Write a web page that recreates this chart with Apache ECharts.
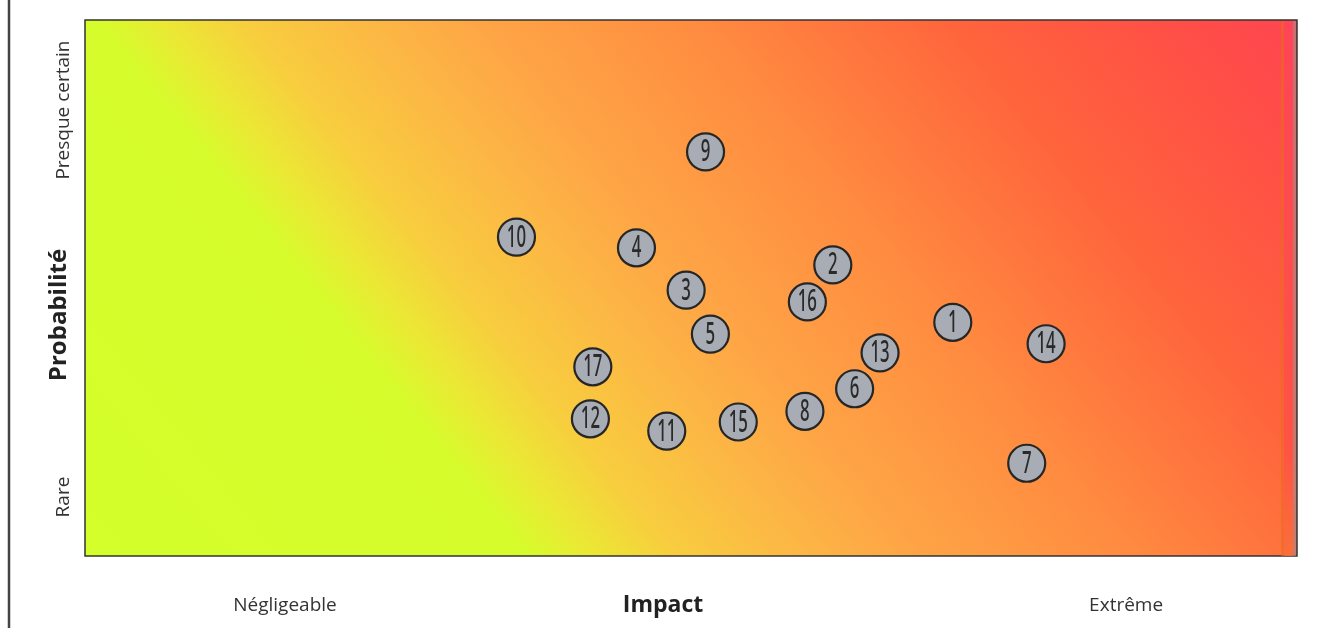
<!DOCTYPE html>
<html>
<head>
<meta charset="utf-8">
<script src="https://cdn.jsdelivr.net/npm/echarts@6/dist/echarts.min.js"></script>
<style>
  html, body { margin: 0; padding: 0; background: #ffffff; }
  #chart { width: 1319px; height: 628px; }
</style>
</head>
<body>
<div id="chart"></div>
<script>
// Risk register: each risk placed by impact (x) and probability (y), 0–100 scales
const riskIds = [1, 2, 3, 4, 5, 6, 7, 8, 9, 10, 11, 12, 13, 14, 15, 16, 17];
const impactValues = [71.6, 61.7, 49.6, 45.5, 51.6, 63.5, 77.7, 59.4, 51.2, 35.6, 48.0, 41.7, 65.6, 79.3, 53.9, 59.6, 41.9];
const probabilityValues = [43.6, 54.3, 49.6, 57.5, 41.4, 31.2, 17.3, 27.0, 75.4, 59.5, 23.3, 25.6, 37.9, 39.6, 25.0, 47.4, 35.3];

const impactTickValues = [16.5, 85.9];
const impactTickLabels = ['Négligeable', 'Extrême'];
const probabilityTickValues = [11, 83.2];
const probabilityTickLabels = ['Rare', 'Presque certain'];

const points = riskIds.map((id, i) => [impactValues[i], probabilityValues[i], id]);

const chart = echarts.init(document.getElementById('chart'), null, { renderer: 'canvas' });

// Heat background: colour rises from low impact/probability (lime) to high (red)
const heat = new echarts.graphic.LinearGradient(0, 1, 0.823, -0.494, [
  { offset: 0.00, color: 'rgb(212,255,42)' },
  { offset: 0.27, color: 'rgb(214,252,44)' },
  { offset: 0.31, color: 'rgb(235,232,52)' },
  { offset: 0.36, color: 'rgb(248,205,62)' },
  { offset: 0.43, color: 'rgb(252,185,68)' },
  { offset: 0.50, color: 'rgb(254,166,70)' },
  { offset: 0.64, color: 'rgb(255,138,64)' },
  { offset: 0.79, color: 'rgb(255,100,60)' },
  { offset: 0.94, color: 'rgb(255,76,72)' },
  { offset: 1.00, color: 'rgb(255,70,82)' }
]);

const labelFont = '"Open Sans", "Noto Sans", sans-serif';

chart.setOption({
  animation: false,
  grid: {
    left: 85, right: 22, top: 20, bottom: 72,
    outerBoundsMode: 'none',
    containLabel: false,
    show: true,
    backgroundColor: heat,
    borderColor: '#333333',
    borderWidth: 1.5
  },
  xAxis: {
    type: 'value', min: 0, max: 100,
    name: 'Impact',
    nameLocation: 'middle',
    nameGap: 38,
    nameMoveOverlap: false,
    nameTextStyle: { fontFamily: labelFont, fontSize: 23, fontWeight: 'bold', color: '#222', padding: [0, 56, 0, 0] },
    axisLine: { show: false },
    axisTick: { show: false },
    splitLine: { show: false },
    axisLabel: {
      customValues: impactTickValues,
      formatter: v => impactTickLabels[impactTickValues.indexOf(v)] || '',
      margin: 40,
      fontFamily: labelFont, fontSize: 19, color: '#333'
    }
  },
  yAxis: {
    type: 'value', min: 0, max: 100,
    name: 'Probabilité',
    nameLocation: 'middle',
    nameGap: 14,
    nameMoveOverlap: false,
    nameTextStyle: { fontFamily: labelFont, fontSize: 24, fontWeight: 'bold', color: '#222', padding: [0, 54, 0, 0] },
    axisLine: { show: false },
    axisTick: { show: false },
    splitLine: { show: false },
    axisLabel: {
      customValues: probabilityTickValues,
      formatter: v => probabilityTickLabels[probabilityTickValues.indexOf(v)] || '',
      rotate: 90,
      margin: 12,
      fontFamily: labelFont, fontSize: 19, color: '#333'
    }
  },
  graphic: [
    {
      type: 'line', silent: true,
      shape: { x1: 9, y1: 0, x2: 9, y2: 628 },
      style: { stroke: '#444444', lineWidth: 2.5 }
    },
    // thin seam strips along the right edge of the heat area
    {
      type: 'rect', silent: true, z: 1,
      shape: { x: 1281, y: 21, width: 3, height: 535 },
      style: { fill: 'rgba(235,105,35,0.6)' }
    },
    {
      type: 'rect', silent: true, z: 1,
      shape: { x: 1284, y: 21, width: 9, height: 535 },
      style: { fill: new echarts.graphic.LinearGradient(0, 0, 0, 1, [
        { offset: 0, color: 'rgba(255,68,88,0.85)' },
        { offset: 0.8, color: 'rgba(255,80,70,0.85)' },
        { offset: 1, color: 'rgba(250,110,55,0.85)' }
      ]) }
    },
    {
      type: 'rect', silent: true, z: 1,
      shape: { x: 1293, y: 21, width: 3, height: 535 },
      style: { fill: 'rgba(175,130,130,0.7)' }
    }
  ],
  series: [{
    type: 'custom',
    data: points,
    encode: { x: 0, y: 1 },
    z: 5,
    renderItem: (params, api) => {
      const p = api.coord([api.value(0), api.value(1)]);
      return {
        type: 'group',
        children: [
          {
            type: 'circle',
            shape: { cx: p[0], cy: p[1], r: 18.5 },
            style: { fill: '#a8acb4', stroke: '#262626', lineWidth: 2.2 }
          },
          {
            type: 'text',
            x: p[0], y: p[1] + 1,
            scaleX: 0.56,
            style: {
              text: String(api.value(2)),
              font: '500 30px "Noto Sans", sans-serif',
              fill: '#2a2a2a',
              align: 'center',
              verticalAlign: 'middle'
            }
          }
        ]
      };
    }
  }]
});
</script>
</body>
</html>
